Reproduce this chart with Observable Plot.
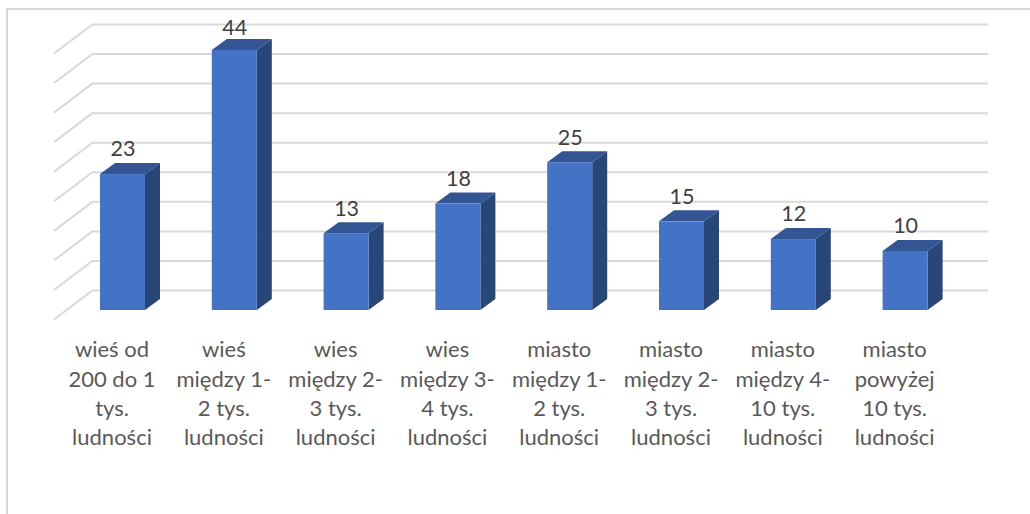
<!DOCTYPE html>
<html lang="pl">
<head>
<meta charset="utf-8">
<script src="https://cdn.jsdelivr.net/npm/d3@7"></script>
<script src="https://cdn.jsdelivr.net/npm/@observablehq/plot@0.6"></script>
<style>
html,body{margin:0;padding:0;background:#fff;overflow:hidden}
#wrap{position:relative;width:1030px;height:514px}
#border{position:absolute;left:6px;top:8px;right:0;bottom:0;border-left:2px solid #d9d9d9;border-top:2px solid #d9d9d9}
#chart{position:absolute;left:0;top:0}
svg{display:block;background:transparent}
</style>
</head>
<body>
<div id="wrap"><div id="border"></div><div id="chart"></div></div>
<script>
const categories = [
  "wieś od\n200 do 1\ntys.\nludności",
  "wieś\nmiędzy 1-\n2 tys.\nludności",
  "wies\nmiędzy 2-\n3 tys.\nludności",
  "wies\nmiędzy 3-\n4 tys.\nludności",
  "miasto\nmiędzy 1-\n2 tys.\nludności",
  "miasto\nmiędzy 2-\n3 tys.\nludności",
  "miasto\nmiędzy 4-\n10 tys.\nludności",
  "miasto\npowyżej\n10 tys.\nludności"
];
const values = [23, 44, 13, 18, 25, 15, 12, 10];
const gridTicks = [0, 5, 10, 15, 20, 25, 30, 35, 40, 45];

const rows = categories.map((c, i) => ({c, v: values[i]}));
const font = "Lato, Carlito, Calibri, sans-serif";

// Oblique projection of the 3D chart, in pixels
const depth = {dx: 15, dy: -11};     // bar depth
const wall = {dy: -20, left: 93, right: 988, sideDx: -39, sideDy: 29.5}; // back wall

// Side or top face of each bar, located through the chart's scales
function barFace(kind, fill) {
  return Plot.dot(rows, {
    x: "c", y: "v", fill,
    render(index, scales) {
      const g = d3.create("svg:g").attr("fill", fill);
      for (const i of index) {
        const w = scales.x.bandwidth();
        const x0 = scales.x(rows[i].c), x1 = x0 + w;
        const yt = scales.y(rows[i].v), yb = scales.y(0);
        const {dx, dy} = depth;
        const pts = kind === "side"
          ? [[x1, yt], [x1 + dx, yt + dy], [x1 + dx, yb + dy], [x1, yb]]
          : [[x0, yt], [x0 + dx, yt + dy], [x1 + dx, yt + dy], [x1, yt]];
        g.append("polygon").attr("points", pts.join(" "));
      }
      return g.node();
    }
  });
}

// Diagonal gridlines on the side wall
const sideLines = Plot.dot(gridTicks, {
  y: d => d, x: () => categories[0],
  render(index, scales) {
    const g = d3.create("svg:g").attr("stroke", "#d9d9d9").attr("stroke-width", 2).attr("fill", "none");
    for (const i of index) {
      const y = scales.y(gridTicks[i]) + wall.dy;
      g.append("line")
        .attr("x1", wall.left).attr("y1", y)
        .attr("x2", wall.left + wall.sideDx).attr("y2", y + wall.sideDy);
    }
    return g.node();
  }
});

const labelOptions = {x: "c", y: "v", text: d => String(d.v), fill: "#404040", fontSize: 21.5, fontFamily: font};

const plot = Plot.plot({
  width: 1030,
  height: 514,
  margin: 0,
  style: {background: "transparent", fontFamily: font},
  x: {domain: categories, type: "band", range: [66.6, 961], paddingInner: 0.5975, paddingOuter: 0.29875, align: 0.5, round: false, label: null},
  y: {domain: [0, 45], range: [310, 44], label: null, axis: null},
  marks: [
    Plot.ruleY(gridTicks, {
      dy: wall.dy, stroke: "#d9d9d9", strokeWidth: 2,
      insetLeft: wall.left, insetRight: 1030 - wall.right
    }),
    sideLines,
    barFace("side", "#294679"),
    barFace("top", "#335593"),
    Plot.barY(rows, {x: "c", y: "v", fill: "#4472c4"}),
    Plot.text(rows.filter(d => d.v < 40), {...labelOptions, dy: -25}),
    Plot.text(rows.filter(d => d.v >= 40), {...labelOptions, dy: -22}),
    Plot.axisX({
      anchor: "bottom", tickSize: 0, label: null, fontSize: 22, fontFamily: font,
      lineHeight: 1.33, color: "#595959", fill: "#595959", tickPadding: 0,
      frameAnchor: "top", dy: 336, dx: -11
    })
  ]
});
document.getElementById("chart").append(plot);
</script>
</body>
</html>
